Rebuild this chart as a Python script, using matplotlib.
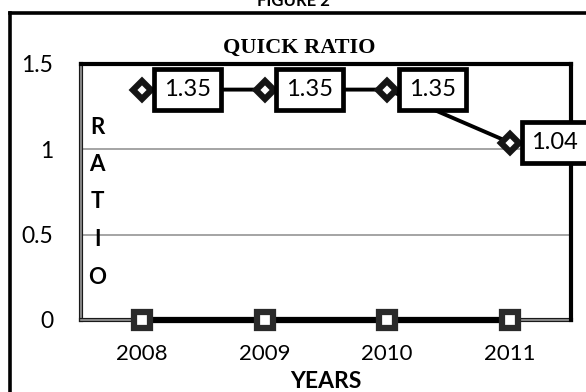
import matplotlib
matplotlib.use("Agg")
import matplotlib.pyplot as plt
from matplotlib.lines import Line2D

# data
years = ["2008", "2009", "2010", "2011"]
quick_ratio = [1.35, 1.35, 1.35, 1.04]
second_series = [0, 0, 0, 0]
y_ticks = [0, 0.5, 1, 1.5]
y_tick_labels = ["0", "0.5", "1", "1.5"]

FONT = "Lato"

fig = plt.figure(figsize=(5.86, 3.92), dpi=100)
fig.patch.set_facecolor("white")
ax = fig.add_axes([81 / 586, 1 - 320 / 392, 490 / 586, 256 / 392])

x = list(range(len(years)))

# grid lines
for yv in [0.5, 1.0]:
    ax.axhline(yv, color="#8c8c8c", lw=1.1, zorder=1)

# zero series (squares)
ax.plot(x, second_series, color="black", lw=4.5, zorder=3,
        marker="s", ms=11, mfc="white", mec="#2a2a2a", mew=4.5, clip_on=False)

# quick ratio line (diamonds)
ax.plot(x, quick_ratio, color="black", lw=2.8, zorder=3,
        marker="D", ms=9, mfc="white", mec="#151515", mew=4.5)

# data labels
for xi, val in zip(x, quick_ratio):
    ax.annotate(f"{val:.2f}", (xi, val), xytext=(32.5, 0), textcoords="offset points",
                ha="center", va="center", fontsize=17, family=FONT, zorder=5,
                bbox=dict(boxstyle="square,pad=0.42", fc="white", ec="black", lw=3.4))

ax.set_xlim(-0.5, 3.5)
ax.set_ylim(0, 1.5)
ax.set_xticks(x)
ax.set_xticklabels(years, fontsize=16, family=FONT)
ax.set_yticks(y_ticks)
ax.set_yticklabels(y_tick_labels, fontsize=16.5, family=FONT)
ax.tick_params(axis="x", length=0, pad=17)
ax.tick_params(axis="y", length=0, pad=20)

# plot area border
for side in ["top", "right"]:
    ax.spines[side].set_linewidth(3)
    ax.spines[side].set_color("black")
for side in ["left", "bottom"]:
    ax.spines[side].set_visible(False)
ax.plot([0, 0], [0, 1], transform=ax.transAxes, color="#1a1a1a", lw=3, clip_on=False, zorder=2)
ax.plot([0, 0], [0, 1], transform=ax.transAxes, color="#9a9a9a", lw=1.2, clip_on=False, zorder=2)
ax.plot([0, 1], [0, 0], transform=ax.transAxes, color="#1a1a1a", lw=3, clip_on=False, zorder=2)
ax.plot([0, 1], [0, 0], transform=ax.transAxes, color="#9a9a9a", lw=1.2, clip_on=False, zorder=2)

# vertical axis title letters inside plot
for i, ch in enumerate("RATIO"):
    ax.text((97 - 81) / 490, 1 - (127 + i * 37.5 - 64) / 256, ch,
            transform=ax.transAxes, ha="center", va="center",
            fontsize=16, fontweight="bold", family=FONT)

# titles
fig.text(299 / 586, 1 - 48 / 392, "QUICK RATIO", ha="center", va="center",
         fontsize=16, fontweight="bold", family="Liberation Serif")
fig.text(326 / 586, 1 - 381 / 392, "YEARS", ha="center", va="center",
         fontsize=16.5, fontweight="bold", family=FONT)
fig.text(293 / 586, 1 - 6 / 392, "FIGURE 2", ha="center", va="baseline",
         fontsize=12, fontweight="bold", family=FONT)

# outer chart frame
fx = 10 / 586
fy = 1 - 13 / 392
fig.add_artist(Line2D([fx, fx], [0, fy], color="black", lw=2.6, transform=fig.transFigure))
fig.add_artist(Line2D([fx, 1.0], [fy, fy], color="black", lw=2.6, transform=fig.transFigure))

fig.savefig("out.png", dpi=100)
